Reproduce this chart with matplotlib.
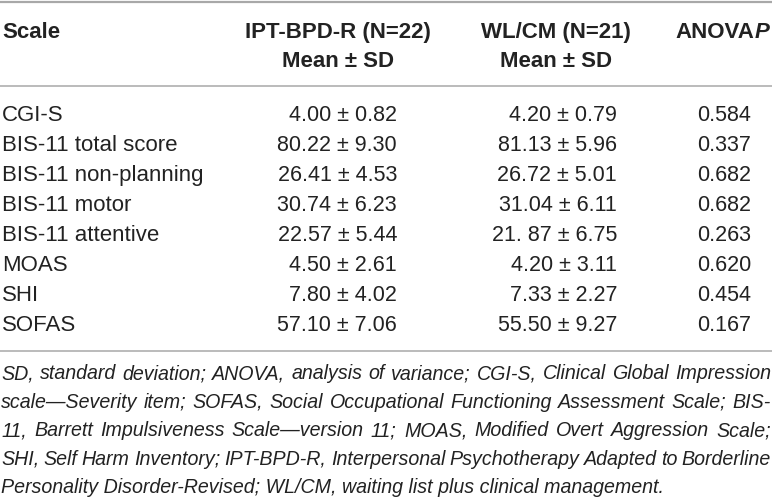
import matplotlib.pyplot as plt

plt.rcParams['font.family'] = ['Liberation Sans', 'DejaVu Sans']

# table content
scales = ["CGI-S", "BIS-11 total score", "BIS-11 non-planning", "BIS-11 motor",
          "BIS-11 attentive", "MOAS", "SHI", "SOFAS"]
ipt_vals = ["4.00 ± 0.82", "80.22 ± 9.30", "26.41 ± 4.53", "30.74 ± 6.23",
            "22.57 ± 5.44", "4.50 ± 2.61", "7.80 ± 4.02", "57.10 ± 7.06"]
wl_vals = ["4.20 ± 0.79", "81.13 ± 5.96", "26.72 ± 5.01", "31.04 ± 6.11",
           "21. 87 ± 6.75", "4.20 ± 3.11", "7.33 ± 2.27", "55.50 ± 9.27"]
p_vals = ["0.584", "0.337", "0.682", "0.682", "0.263", "0.620", "0.454", "0.167"]

head_ipt = ["IPT-BPD-R (N=22)", "Mean ± SD"]
head_wl = ["WL/CM (N=21)", "Mean ± SD"]

footnote = [
    "SD, standard deviation; ANOVA, analysis of variance; CGI-S, Clinical Global Impression",
    "scale\u2014Severity item; SOFAS, Social Occupational Functioning Assessment Scale; BIS-",
    "11, Barrett Impulsiveness Scale\u2014version 11; MOAS, Modified Overt Aggression Scale;",
    "SHI, Self Harm Inventory; IPT-BPD-R, Interpersonal Psychotherapy Adapted to Borderline",
    "Personality Disorder-Revised; WL/CM, waiting list plus clinical management.",
]

W, H = 772, 498
fig = plt.figure(figsize=(W / 100, H / 100), dpi=100)
ax = fig.add_axes([0, 0, 1, 1])
ax.set_xlim(0, W)
ax.set_ylim(H, 0)
ax.axis('off')
r = fig.canvas.get_renderer()

txt = '#222222'
rule = '#a8a8a8'
fs_head = 16
fs_lab = 16
fs_num = 15.5
fs_note = 14.1

def width(t):
    return t.get_window_extent(renderer=r).width

# rules
for y, lw in [(1.5, 1.6), (86, 1.1), (351, 1.1)]:
    ax.axhline(y, color=rule, lw=lw)

# header
ax.text(2, 38, "Scale", fontsize=fs_head, fontweight='bold', color=txt, va='baseline')
for cx, lines in [(338, head_ipt), (556, head_wl)]:
    for y, s in zip([38, 67], lines):
        ax.text(cx, y, s, fontsize=fs_head, fontweight='bold', color=txt,
                ha='center', va='baseline')
p_t = ax.text(769, 38, "P", fontsize=fs_head, fontweight='bold', fontstyle='italic',
              color=txt, ha='right', va='baseline')
ax.text(769 - width(p_t), 38, "ANOVA", fontsize=fs_head, fontweight='bold',
        color=txt, ha='right', va='baseline')

# body rows
y0, dy = 115, 30
for i in range(len(scales)):
    y = y0 + i * dy
    ax.text(2, y, scales[i], fontsize=fs_lab, color=txt, va='center')
    ax.text(397, y, ipt_vals[i], fontsize=fs_num, color=txt, ha='right', va='center')
    ax.text(617, y, wl_vals[i], fontsize=fs_num, color=txt, ha='right', va='center')
    ax.text(751, y, p_vals[i], fontsize=fs_num, color=txt, ha='right', va='center')

# footnote, justified
x0, x1 = 1, 771
for k, line in enumerate(footnote):
    yb = 379 + k * 28.5
    words = line.split(' ')
    if k == len(footnote) - 1:
        ax.text(x0, yb, line, fontsize=fs_note, fontstyle='italic', color=txt,
                va='baseline')
        continue
    ts = [ax.text(0, yb, w_, fontsize=fs_note, fontstyle='italic', color=txt,
                  va='baseline') for w_ in words]
    ws = [width(t) for t in ts]
    gap = (x1 - x0 - sum(ws)) / (len(ws) - 1)
    x = x0
    for t, w_ in zip(ts, ws):
        t.set_x(x)
        x += w_ + gap

fig.savefig('out.png', dpi=100)
